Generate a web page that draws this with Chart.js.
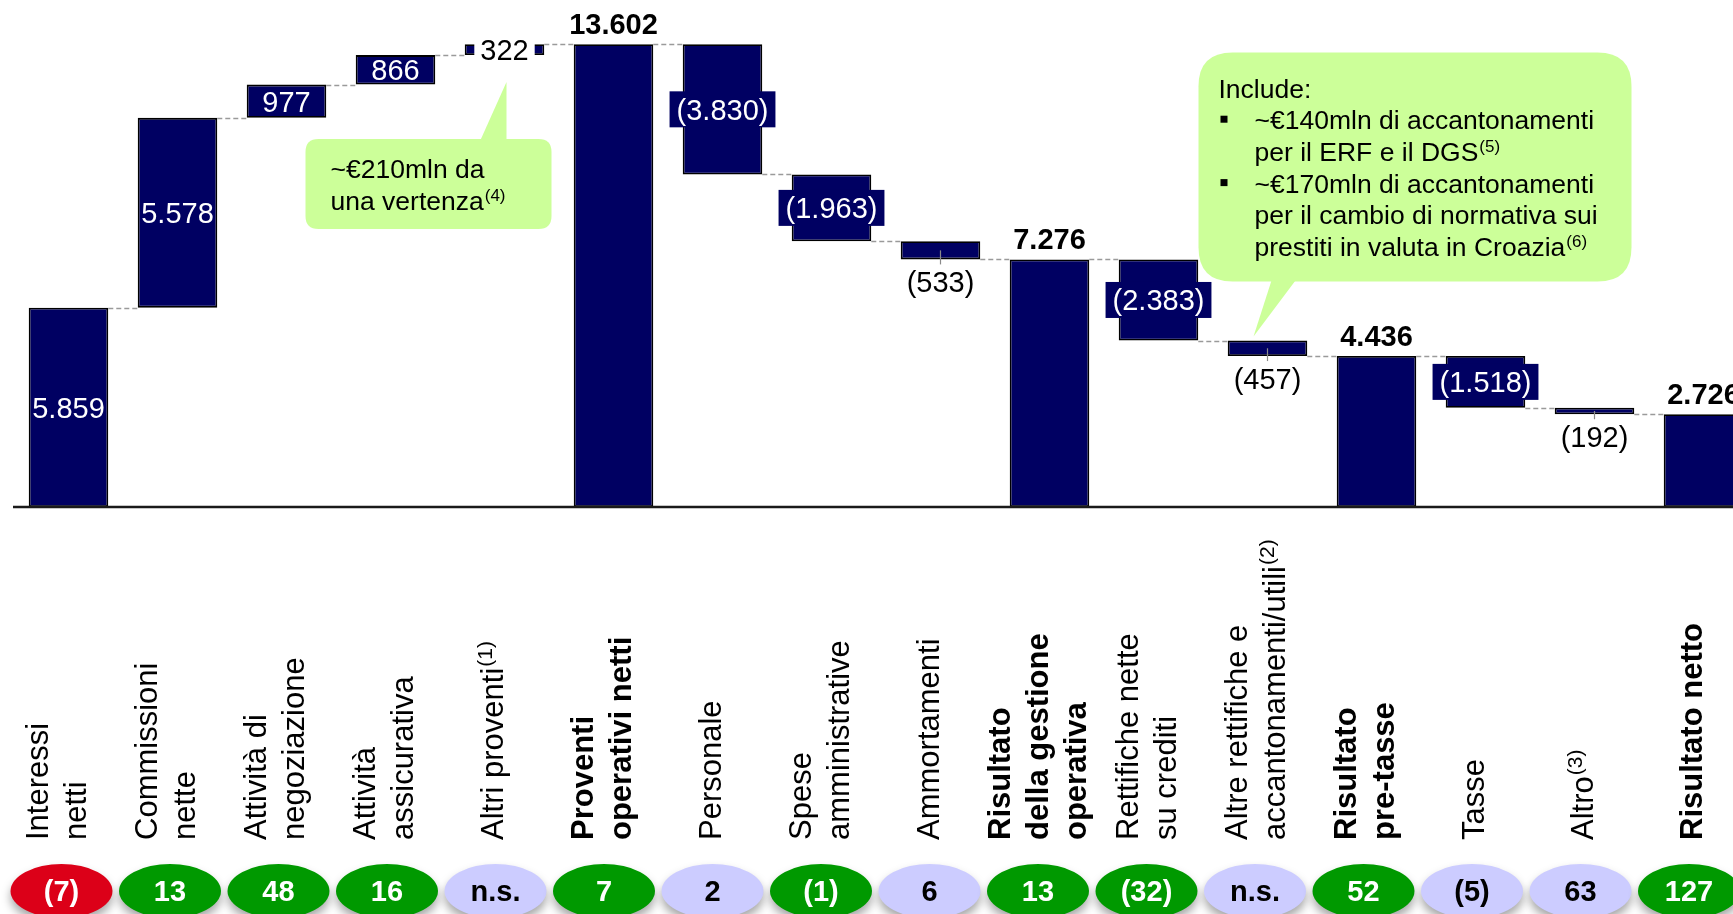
<!DOCTYPE html>
<html><head><meta charset="utf-8">
<script src="https://cdn.jsdelivr.net/npm/chart.js@4"></script>
<style>
html,body{margin:0;padding:0;overflow:hidden;background:#fff}
#wrap{width:1760px;height:914px;position:relative}
</style>
</head><body><div id="wrap"><canvas id="c"></canvas></div>
<script>
// ---------- DATA ----------
const categories = [
  ['Interessi','netti'], ['Commissioni','nette'], ['Attività di','negoziazione'],
  ['Attività','assicurativa'], ['Altri proventi'], ['Proventi','operativi netti'],
  ['Personale'], ['Spese','amministrative'], ['Ammortamenti'],
  ['Risultato','della gestione','operativa'], ['Rettifiche nette','su crediti'],
  ['Altre rettifiche e','accantonamenti/utili'], ['Risultato','pre-tasse'],
  ['Tasse'], ['Altro'], ['Risultato netto']
];
const labelNotes = ['','','','','(1)','','','','','','','(2)','','','(3)',''];
const deltas = [5859, 5578, 977, 866, 322, null, -3830, -1963, -533, null, -2383, -457, null, -1518, -192, null];
const totals = [null, null, null, null, null, 13602, null, null, null, 7276, null, null, 4436, null, null, 2726];
const changePct  = ['(7)','13','48','16','n.s.','7','2','(1)','6','13','(32)','n.s.','52','(5)','63','127'];
const changeTone = ['neg','pos','pos','pos','na','pos','na','pos','na','pos','pos','na','pos','na','na','pos'];
const note1 = { bar: 4, lines: [['~€210mln da',''], ['una vertenza','(4)']] };
const note2 = { bar: 11, lines: [
  ['Include:','',false], ['~€140mln di accantonamenti','',true], ['per il ERF e il DGS','(5)',false],
  ['~€170mln di accantonamenti','',true], ['per il cambio di normativa sui','',false],
  ['prestiti in valuta in Croazia','(6)',false] ] };

// ---------- BUILD FLOATING RANGES ----------
const ranges = [];
let run = 0;
for (let i = 0; i < categories.length; i++) {
  if (totals[i] !== null) { ranges.push([0, totals[i]]); run = totals[i]; }
  else { const s = run; run += deltas[i]; ranges.push([Math.min(s, run), Math.max(s, run)]); }
}
const endLevel = [];
run = 0;
for (let i = 0; i < categories.length; i++) {
  run = totals[i] !== null ? totals[i] : run + deltas[i];
  endLevel.push(run);
}
function fmt(v) {
  const s = String(Math.abs(v)).replace(/\B(?=(\d{3})+(?!\d))/g, '.');
  return v < 0 ? '(' + s + ')' : s;
}

const FONT = '"Liberation Sans", Arial, Helvetica, sans-serif';
const NAVY = '#000062';
const TONE = { neg: '#DC0018', pos: '#009900', na: '#CCCCFF' };
const TONE_TXT = { neg: '#fff', pos: '#fff', na: '#000' };
const VFS = 29;

function roundRect(ctx, x, y, w, h, r) {
  ctx.beginPath();
  ctx.moveTo(x + r, y);
  ctx.lineTo(x + w - r, y); ctx.quadraticCurveTo(x + w, y, x + w, y + r);
  ctx.lineTo(x + w, y + h - r); ctx.quadraticCurveTo(x + w, y + h, x + w - r, y + h);
  ctx.lineTo(x + r, y + h); ctx.quadraticCurveTo(x, y + h, x, y + h - r);
  ctx.lineTo(x, y + r); ctx.quadraticCurveTo(x, y, x + r, y);
  ctx.closePath();
}

const wfPlugin = {
  id: 'wf',
  beforeDatasetsDraw(chart) {
    const ctx = chart.ctx, meta = chart.getDatasetMeta(0), ys = chart.scales.y;
    ctx.save();
    ctx.strokeStyle = '#9a9a9a'; ctx.lineWidth = 1.3; ctx.setLineDash([5, 3]);
    for (let i = 0; i < meta.data.length - 1; i++) {
      const a = meta.data[i], b = meta.data[i + 1];
      const y = Math.round(ys.getPixelForValue(endLevel[i])) + 0.5;
      ctx.beginPath(); ctx.moveTo(a.x + a.width / 2, y); ctx.lineTo(b.x - b.width / 2, y); ctx.stroke();
    }
    ctx.restore();
  },
  afterDatasetsDraw(chart) {
    const ctx = chart.ctx, meta = chart.getDatasetMeta(0), ys = chart.scales.y;
    ctx.save();
    // axis line
    const y0 = ys.getPixelForValue(0);
    ctx.strokeStyle = '#1a1a1a'; ctx.lineWidth = 2.5;
    ctx.beginPath(); ctx.moveTo(13, y0); ctx.lineTo(chart.width, y0); ctx.stroke();

    // value labels
    ctx.textAlign = 'center'; ctx.textBaseline = 'alphabetic';
    for (let i = 0; i < meta.data.length; i++) {
      const el = meta.data[i];
      const cx = el.x;
      const top = ys.getPixelForValue(ranges[i][1]);
      const bot = ys.getPixelForValue(ranges[i][0]);
      const cy = (top + bot) / 2, h = bot - top;
      if (totals[i] !== null) {
        ctx.font = 'bold ' + VFS + 'px ' + FONT; ctx.fillStyle = '#000';
        ctx.fillText(fmt(totals[i]), cx, top - 10);
        continue;
      }
      const txt = fmt(deltas[i]);
      ctx.font = VFS + 'px ' + FONT;
      const w = ctx.measureText(txt).width;
      if (deltas[i] > 0 && h < 25) {
        ctx.fillStyle = '#fff'; ctx.fillRect(cx - w / 2 - 6, cy - 15, w + 12, 30);
        ctx.fillStyle = '#000'; ctx.fillText(txt, cx, cy + 10.5);
      } else if (deltas[i] < 0 && h < 25) {
        ctx.strokeStyle = '#8a8a8a'; ctx.lineWidth = 1.2;
        ctx.beginPath(); ctx.moveTo(cx, cy); ctx.lineTo(cx, bot + 5); ctx.stroke();
        ctx.fillStyle = '#000'; ctx.fillText(txt, cx, bot + 33);
      } else if (deltas[i] < 0) {
        ctx.fillStyle = NAVY; ctx.fillRect(cx - w / 2 - 7, cy - 18, w + 14, 36);
        ctx.fillStyle = '#fff'; ctx.fillText(txt, cx, cy + 10.5);
      } else {
        ctx.fillStyle = '#fff'; ctx.fillText(txt, cx, cy + 10.5);
      }
    }

    // category labels (rotated, bottom-aligned)
    for (let i = 0; i < meta.data.length; i++) {
      const cx = meta.data[i].x;
      const lines = categories[i], n = lines.length;
      const bold = totals[i] !== null;
      for (let j = 0; j < n; j++) {
        const bx = cx - 2 + (j - (n - 1) / 2) * 38;
        ctx.save();
        ctx.translate(bx, 840); ctx.rotate(-Math.PI / 2);
        ctx.textAlign = 'left'; ctx.textBaseline = 'alphabetic';
        ctx.fillStyle = '#000';
        ctx.font = (bold ? 'bold ' : '') + '31px ' + FONT;
        ctx.fillText(lines[j], 0, 0);
        if (j === n - 1 && labelNotes[i]) {
          const w = ctx.measureText(lines[j]).width;
          ctx.font = '21px ' + FONT;
          ctx.fillText(labelNotes[i], w + 1, -11);
        }
        ctx.restore();
      }
    }

    // change ovals
    for (let i = 0; i < meta.data.length; i++) {
      const ox = meta.data[i].x - 7 - 0.5 * i, oy = 891;
      ctx.save();
      ctx.shadowColor = 'rgba(0,0,0,0.35)'; ctx.shadowBlur = 10; ctx.shadowOffsetY = 6;
      ctx.fillStyle = TONE[changeTone[i]];
      ctx.beginPath(); ctx.ellipse(ox, oy, 51, 27, 0, 0, Math.PI * 2); ctx.fill();
      ctx.restore();
      ctx.font = 'bold 29px ' + FONT; ctx.fillStyle = TONE_TXT[changeTone[i]];
      ctx.textAlign = 'center'; ctx.textBaseline = 'alphabetic';
      ctx.fillText(changePct[i], ox, oy + 10);
    }

    // callout 1
    {
      const el = meta.data[note1.bar];
      const cx = el.x, bot = ys.getPixelForValue(ranges[note1.bar][0]);
      const bx = cx - 199, by = bot + 84, bw = 246, bh = 90;
      ctx.fillStyle = '#CCFF99';
      roundRect(ctx, bx, by, bw, bh, 13); ctx.fill();
      ctx.beginPath(); ctx.moveTo(cx - 24, by + 1); ctx.lineTo(cx + 2, bot + 27); ctx.lineTo(cx + 2, by + 1); ctx.closePath(); ctx.fill();
      ctx.fillStyle = '#000'; ctx.textAlign = 'left';
      note1.lines.forEach((ln, k) => {
        ctx.font = '26.5px ' + FONT;
        const yb = by + 39 + k * 32;
        ctx.fillText(ln[0], bx + 25, yb);
        if (ln[1]) { const w = ctx.measureText(ln[0]).width; ctx.font = '17px ' + FONT; ctx.fillText(ln[1], bx + 25 + w + 1, yb - 9); }
      });
    }
    // callout 2
    {
      const el = meta.data[note2.bar];
      const cx = el.x, top = ys.getPixelForValue(ranges[note2.bar][1]);
      const bx = cx - 69, by = top - 288, bw = 433, bh = 229;
      ctx.fillStyle = '#CCFF99';
      roundRect(ctx, bx, by, bw, bh, 34); ctx.fill();
      ctx.beginPath(); ctx.moveTo(cx + 4, by + bh - 1); ctx.lineTo(cx - 14, top - 4); ctx.lineTo(cx + 28, by + bh - 1); ctx.closePath(); ctx.fill();
      ctx.fillStyle = '#000'; ctx.textAlign = 'left';
      note2.lines.forEach((ln, k) => {
        ctx.font = '26.5px ' + FONT;
        const yb = by + 45 + k * 31.7;
        const tx = k === 0 ? bx + 20 : bx + 56;
        if (ln[2]) ctx.fillRect(bx + 22, yb - 13.5, 7, 7);
        ctx.fillText(ln[0], tx, yb);
        if (ln[1]) { const w = ctx.measureText(ln[0]).width; ctx.font = '17px ' + FONT; ctx.fillText(ln[1], tx + w + 1, yb - 9); }
      });
    }
    ctx.restore();
  }
};

new Chart(document.getElementById('c'), {
  type: 'bar',
  data: {
    labels: categories,
    datasets: [{
      data: ranges,
      backgroundColor: NAVY,
      borderColor: '#000',
      borderWidth: 1.8,
      borderSkipped: false,
      barPercentage: 0.73,
      categoryPercentage: 1.0
    }]
  },
  options: {
    responsive: true,
    maintainAspectRatio: false,
    animation: false,
    layout: { padding: { left: 14, right: 2, top: 0, bottom: 407 } },
    plugins: { legend: { display: false }, tooltip: { enabled: false }, title: { display: false } },
    scales: {
      x: { display: false, offset: true },
      y: { display: false, min: 0, max: 14900 }
    }
  },
  plugins: [wfPlugin]
});
</script>
</body></html>
